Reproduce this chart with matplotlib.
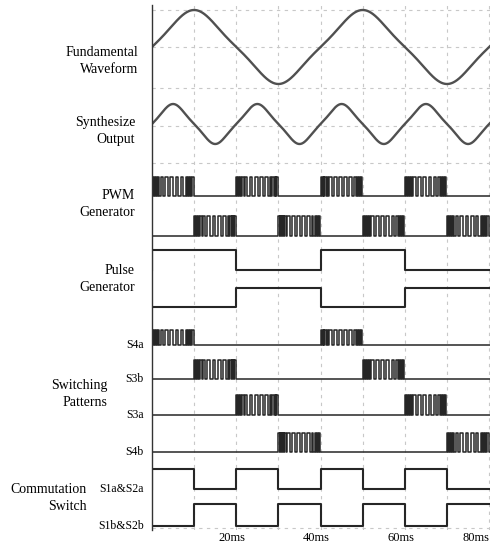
import numpy as np
import matplotlib
matplotlib.use("Agg")
import matplotlib.pyplot as plt
import matplotlib.transforms as mtransforms

plt.rcParams["font.family"] = ["Liberation Serif", "DejaVu Serif"]

# time axis (ms)
T_MAX = 80.2
T_TRACE = 82.0
BURST_LEN = 10.0

# waveform periods (ms)
fund_period = 40.0
synth_period = 20.0

# PWM carrier: relative width of each switching period inside a 10 ms burst
# (narrow at the burst edges, wider in the middle) and the on-ratio of each
pwm_slots = [0.45, 0.45, 0.5, 0.6, 1.1, 1.2, 1.2, 1.2, 1.1, 0.6, 0.5, 0.45, 0.45]
pwm_on = [0.6, 0.6, 0.6, 0.55, 0.55, 0.55, 0.55, 0.55, 0.55, 0.55, 0.6, 0.6, 0.7]

# burst start times (ms)
pwm_a_starts = [0, 20, 40, 60]
pwm_b_starts = [10, 30, 50, 70]
s4a_starts = [0, 40]
s3b_starts = [10, 50]
s3a_starts = [20, 60]
s4b_starts = [30, 70]

# high intervals of the square signals (ms)
pulse_a_high = [(0, 20), (40, 60)]
pulse_b_high = [(20, 40), (60, 82)]
comm_a_high = [(0, 10), (20, 30), (40, 50), (60, 70)]
comm_b_high = [(10, 20), (30, 40), (50, 60), (70, 82)]

tick_ms = [20, 40, 60, 80]
tick_labels = ["20ms", "40ms", "60ms", "80ms"]

W, H = 492, 546
fig = plt.figure(figsize=(W / 100, H / 100), dpi=100)
ax = fig.add_axes([152 / W, 1 - 530 / H, (490 - 152) / W, (530 - 5) / H])
ax.set_xlim(0, T_MAX)
ax.set_ylim(530, 5)  # pixel rows, top down

LINE = "#262626"
GRID = "#c8c8c8"


def pwm_trace(starts, high, low):
    xs, ys = [0.0], [low]
    scale = BURST_LEN / sum(pwm_slots)
    for s in starts:
        t0 = s
        for w, d in zip(pwm_slots, pwm_on):
            w = w * scale
            xs += [t0, t0 + d * w]
            ys += [high, low]
            t0 += w
    xs.append(T_TRACE)
    ys.append(low)
    return xs, ys


def square_trace(intervals, high, low):
    xs, ys = [0.0], [low]
    for a, b in intervals:
        xs += [a, b]
        ys += [high, low]
    xs.append(T_TRACE)
    ys.append(low)
    return xs, ys


def wave(t, period):
    th = 2 * np.pi * t / period
    k = 0.08
    return (np.sin(th) - k * np.sin(3 * th)) / (1 + k)


# grid
for x in np.arange(10, 81, 10):
    ax.axvline(x, color=GRID, lw=0.8, ls=(0, (3, 4)), zorder=0)
for y in [10, 47, 88, 126, 163, 528]:
    ax.axhline(y, color=GRID, lw=0.8, ls=(0, (3, 4)), zorder=0)

# analog waveforms
t = np.linspace(0, T_MAX, 1200)
ax.plot(t, 47 - 37 * wave(t, fund_period), color="#505050", lw=1.7)
ax.plot(t, 124 - 20 * wave(t, synth_period), color="#505050", lw=1.7)

# PWM generator
for starts, hi, lo in [(pwm_a_starts, 177, 196), (pwm_b_starts, 216, 236)]:
    xs, ys = pwm_trace(starts, hi, lo)
    ax.plot(xs, ys, drawstyle="steps-post", color=LINE, lw=1.1)

# pulse generator
for iv, hi, lo in [(pulse_a_high, 250, 270), (pulse_b_high, 288, 307)]:
    xs, ys = square_trace(iv, hi, lo)
    ax.plot(xs, ys, drawstyle="steps-post", color=LINE, lw=1.5)

# switching patterns
sw_rows = [("S4a", s4a_starts, 330, 345),
           ("S3b", s3b_starts, 360, 379),
           ("S3a", s3a_starts, 395, 415),
           ("S4b", s4b_starts, 433, 452)]
for name, starts, hi, lo in sw_rows:
    xs, ys = pwm_trace(starts, hi, lo)
    ax.plot(xs, ys, drawstyle="steps-post", color=LINE, lw=1.1)
    fig.text(144 / W, 1 - lo / H, name, ha="right", va="center", fontsize=8.5)

# commutation switch
cm_rows = [("S1a&S2a", comm_a_high, 469, 489),
           ("S1b&S2b", comm_b_high, 504, 526)]
for name, iv, hi, lo in cm_rows:
    xs, ys = square_trace(iv, hi, lo)
    ax.plot(xs, ys, drawstyle="steps-post", color=LINE, lw=1.5)
    fig.text(144 / W, 1 - lo / H, name, ha="right", va="center", fontsize=8.5)

# axes styling
for side in ["top", "right", "bottom"]:
    ax.spines[side].set_visible(False)
ax.spines["left"].set_color("#333333")
ax.spines["left"].set_linewidth(1.0)
ax.set_yticks([])
ax.set_xticks(tick_ms)
ax.set_xticklabels(tick_labels, fontsize=9)
ax.tick_params(axis="x", length=0, pad=1.5)
shift = mtransforms.ScaledTranslation(-4 / 100, 0, fig.dpi_scale_trans)
labels = ax.get_xticklabels()
for lab in labels[:-1]:
    lab.set_transform(lab.get_transform() + shift)
labels[-1].set_ha("right")

# row titles
titles = [("Fundamental\nWaveform", 138, 61),
          ("Synthesize\nOutput", 135, 131),
          ("PWM\nGenerator", 135, 204),
          ("Pulse\nGenerator", 135, 279),
          ("Switching\nPatterns", 107, 394),
          ("Commutation\nSwitch", 87, 498)]
for txt, xr, yc in titles:
    fig.text(xr / W, 1 - yc / H, txt, ha="right", va="center",
             multialignment="right", fontsize=10, linespacing=1.45)

fig.savefig("out.png", dpi=100)
